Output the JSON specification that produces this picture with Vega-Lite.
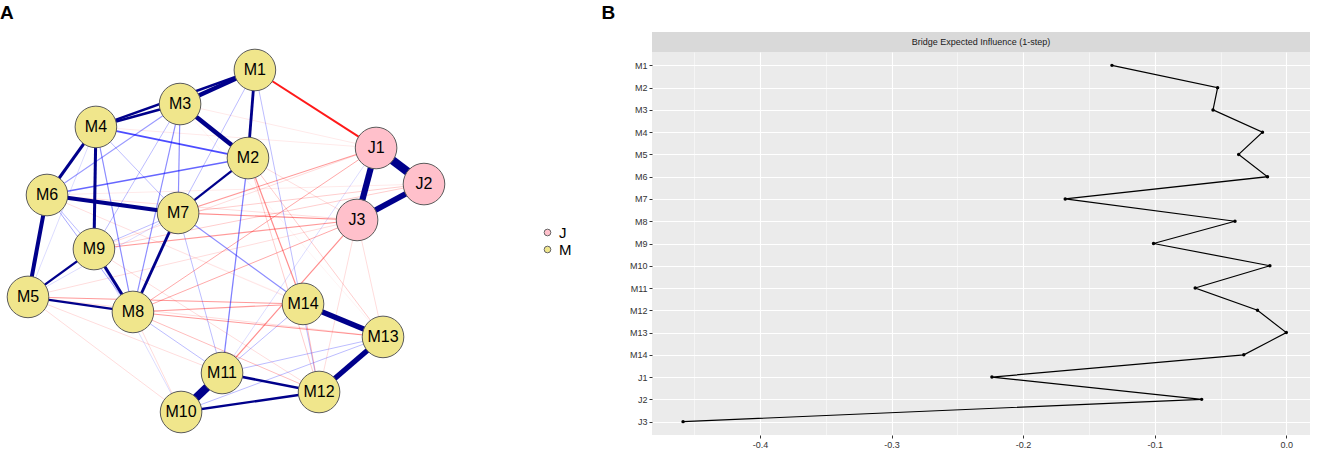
{
  "$schema": "https://vega.github.io/schema/vega-lite/v6.json",
  "padding": {"top": 4, "left": 0, "right": 0, "bottom": 0},
  "background": "white",
  "config": {"font": "Liberation Sans", "view": {"stroke": null}},
  "datasets": {
    "nodes": [
      {"id": "M1", "group": "M", "x": 0.146, "y": 1.0, "bei": -0.1325},
      {"id": "M2", "group": "M", "x": 0.111, "y": 0.485, "bei": -0.0522},
      {"id": "M3", "group": "M", "x": -0.232, "y": 0.801, "bei": -0.0557},
      {"id": "M4", "group": "M", "x": -0.657, "y": 0.667, "bei": -0.0181},
      {"id": "M5", "group": "M", "x": -1.0, "y": -0.327, "bei": -0.0362},
      {"id": "M6", "group": "M", "x": -0.904, "y": 0.269, "bei": -0.0143},
      {"id": "M7", "group": "M", "x": -0.242, "y": 0.164, "bei": -0.168},
      {"id": "M8", "group": "M", "x": -0.47, "y": -0.415, "bei": -0.039},
      {"id": "M9", "group": "M", "x": -0.667, "y": -0.047, "bei": -0.1009},
      {"id": "M10", "group": "M", "x": -0.227, "y": -1.0, "bei": -0.0125},
      {"id": "M11", "group": "M", "x": -0.02, "y": -0.772, "bei": -0.0692},
      {"id": "M12", "group": "M", "x": 0.47, "y": -0.883, "bei": -0.0219},
      {"id": "M13", "group": "M", "x": 0.793, "y": -0.561, "bei": 0.0},
      {"id": "M14", "group": "M", "x": 0.389, "y": -0.368, "bei": -0.0323},
      {"id": "J1", "group": "J", "x": 0.758, "y": 0.544, "bei": -0.2237},
      {"id": "J2", "group": "J", "x": 1.0, "y": 0.333, "bei": -0.0643},
      {"id": "J3", "group": "J", "x": 0.662, "y": 0.123, "bei": -0.4584}
    ],
    "edges": [
      {"from": "M6", "to": "M13", "w": 0.01, "sign": "neg"},
      {"from": "M3", "to": "M13", "w": 0.01, "sign": "neg"},
      {"from": "M4", "to": "J1", "w": 0.015, "sign": "neg"},
      {"from": "M3", "to": "J1", "w": 0.015, "sign": "neg"},
      {"from": "M6", "to": "J2", "w": 0.015, "sign": "neg"},
      {"from": "M6", "to": "M14", "w": 0.015, "sign": "neg"},
      {"from": "M5", "to": "M10", "w": 0.02, "sign": "neg"},
      {"from": "M5", "to": "M11", "w": 0.02, "sign": "neg"},
      {"from": "M9", "to": "M12", "w": 0.02, "sign": "neg"},
      {"from": "J3", "to": "M12", "w": 0.02, "sign": "neg"},
      {"from": "J3", "to": "M13", "w": 0.02, "sign": "neg"},
      {"from": "M9", "to": "J1", "w": 0.02, "sign": "neg"},
      {"from": "M8", "to": "M10", "w": 0.02, "sign": "neg"},
      {"from": "M5", "to": "M13", "w": 0.02, "sign": "neg"},
      {"from": "M2", "to": "J3", "w": 0.02, "sign": "neg"},
      {"from": "M6", "to": "J3", "w": 0.02, "sign": "neg"},
      {"from": "M5", "to": "J3", "w": 0.02, "sign": "neg"},
      {"from": "M5", "to": "M4", "w": 0.02, "sign": "pos"},
      {"from": "M9", "to": "M10", "w": 0.02, "sign": "pos"},
      {"from": "J1", "to": "M11", "w": 0.02, "sign": "pos"},
      {"from": "M5", "to": "M7", "w": 0.02, "sign": "pos"},
      {"from": "M2", "to": "M12", "w": 0.025, "sign": "neg"},
      {"from": "M2", "to": "M13", "w": 0.025, "sign": "neg"},
      {"from": "M9", "to": "J2", "w": 0.025, "sign": "neg"},
      {"from": "M7", "to": "J2", "w": 0.025, "sign": "neg"},
      {"from": "M1", "to": "M7", "w": 0.03, "sign": "pos"},
      {"from": "M6", "to": "M9", "w": 0.03, "sign": "pos"},
      {"from": "M4", "to": "M7", "w": 0.03, "sign": "pos"},
      {"from": "M9", "to": "M3", "w": 0.03, "sign": "pos"},
      {"from": "M8", "to": "M11", "w": 0.03, "sign": "pos"},
      {"from": "M11", "to": "M14", "w": 0.03, "sign": "pos"},
      {"from": "M11", "to": "M13", "w": 0.03, "sign": "pos"},
      {"from": "M10", "to": "M13", "w": 0.03, "sign": "pos"},
      {"from": "M7", "to": "M11", "w": 0.03, "sign": "pos"},
      {"from": "M7", "to": "M9", "w": 0.03, "sign": "pos"},
      {"from": "M1", "to": "M12", "w": 0.03, "sign": "pos"},
      {"from": "M14", "to": "M12", "w": 0.03, "sign": "neg"},
      {"from": "M8", "to": "M12", "w": 0.03, "sign": "neg"},
      {"from": "M6", "to": "M8", "w": 0.035, "sign": "pos"},
      {"from": "M3", "to": "M6", "w": 0.04, "sign": "pos"},
      {"from": "M7", "to": "J1", "w": 0.04, "sign": "neg"},
      {"from": "M9", "to": "J3", "w": 0.04, "sign": "neg"},
      {"from": "M8", "to": "J3", "w": 0.035, "sign": "neg"},
      {"from": "M8", "to": "M14", "w": 0.04, "sign": "neg"},
      {"from": "M8", "to": "M13", "w": 0.04, "sign": "neg"},
      {"from": "M5", "to": "M14", "w": 0.04, "sign": "neg"},
      {"from": "M2", "to": "M14", "w": 0.045, "sign": "neg"},
      {"from": "M8", "to": "J1", "w": 0.035, "sign": "neg"},
      {"from": "M7", "to": "J3", "w": 0.045, "sign": "neg"},
      {"from": "M11", "to": "J3", "w": 0.045, "sign": "neg"},
      {"from": "M4", "to": "M8", "w": 0.045, "sign": "pos"},
      {"from": "M3", "to": "M8", "w": 0.045, "sign": "pos"},
      {"from": "M3", "to": "M7", "w": 0.045, "sign": "pos"},
      {"from": "M2", "to": "M11", "w": 0.05, "sign": "pos"},
      {"from": "M7", "to": "M14", "w": 0.045, "sign": "pos"},
      {"from": "M6", "to": "M2", "w": 0.06, "sign": "pos"},
      {"from": "M4", "to": "M2", "w": 0.07, "sign": "pos"},
      {"from": "M1", "to": "J1", "w": 0.09, "sign": "neg"},
      {"from": "M2", "to": "M7", "w": 0.1, "sign": "pos"},
      {"from": "M9", "to": "M5", "w": 0.1, "sign": "pos"},
      {"from": "M5", "to": "M8", "w": 0.1, "sign": "pos"},
      {"from": "M1", "to": "M4", "w": 0.11, "sign": "pos"},
      {"from": "M3", "to": "M4", "w": 0.12, "sign": "pos"},
      {"from": "M10", "to": "M12", "w": 0.11, "sign": "pos"},
      {"from": "M7", "to": "M8", "w": 0.13, "sign": "pos"},
      {"from": "M11", "to": "M12", "w": 0.12, "sign": "pos"},
      {"from": "M1", "to": "M2", "w": 0.13, "sign": "pos"},
      {"from": "M4", "to": "M6", "w": 0.14, "sign": "pos"},
      {"from": "M4", "to": "M9", "w": 0.14, "sign": "pos"},
      {"from": "M9", "to": "M8", "w": 0.14, "sign": "pos"},
      {"from": "M6", "to": "M7", "w": 0.19, "sign": "pos"},
      {"from": "M6", "to": "M5", "w": 0.19, "sign": "pos"},
      {"from": "M3", "to": "M2", "w": 0.22, "sign": "pos"},
      {"from": "M1", "to": "M3", "w": 0.2, "sign": "pos"},
      {"from": "M14", "to": "M13", "w": 0.26, "sign": "pos"},
      {"from": "M13", "to": "M12", "w": 0.25, "sign": "pos"},
      {"from": "J2", "to": "J3", "w": 0.28, "sign": "pos"},
      {"from": "J1", "to": "J3", "w": 0.3, "sign": "pos"},
      {"from": "M11", "to": "M10", "w": 0.4, "sign": "pos"},
      {"from": "J1", "to": "J2", "w": 0.42, "sign": "pos"}
    ]
  },
  "hconcat": [
    {
      "title": {"text": "A", "anchor": "start", "fontSize": 19, "fontWeight": "bold", "offset": 9, "color": "black"},
      "width": 590,
      "height": 420,
      "layer": [
        {
          "data": {"name": "edges"},
          "transform": [
            {"lookup": "from", "from": {"data": {"name": "nodes"}, "key": "id", "fields": ["x", "y"]}, "as": ["x1", "y1"]},
            {"lookup": "to", "from": {"data": {"name": "nodes"}, "key": "id", "fields": ["x", "y"]}, "as": ["x2", "y2"]}
          ],
          "mark": {"type": "rule", "strokeCap": "butt"},
          "encoding": {
            "x": {"field": "x1", "type": "quantitative", "scale": {"domain": [-1.1414, 1.8384], "nice": false, "zero": false}, "axis": null},
            "y": {"field": "y1", "type": "quantitative", "scale": {"domain": [-1.2339, 1.2222], "nice": false, "zero": false}, "axis": null},
            "x2": {"field": "x2"},
            "y2": {"field": "y2"},
            "stroke": {
              "condition": {"test": "datum.sign == 'pos' && datum.w >= 0.1", "value": "#00008B"},
              "field": "sign", "type": "nominal",
              "scale": {"domain": ["pos", "neg"], "range": ["#0000FF", "#FF0000"]},
              "legend": null
            },
            "opacity": {"field": "w", "type": "quantitative", "scale": {"domain": [0, 0.1], "range": [0, 1], "clamp": true}, "legend": null},
            "strokeWidth": {"field": "w", "type": "quantitative", "scale": {"domain": [0, 0.42], "range": [0.3, 8.5]}, "legend": null}
          }
        },
        {
          "data": {"name": "nodes"},
          "mark": {"type": "circle", "size": 1730, "stroke": "#5a5a5a", "strokeWidth": 1, "opacity": 1},
          "encoding": {
            "x": {"field": "x", "type": "quantitative"},
            "y": {"field": "y", "type": "quantitative"},
            "fill": {
              "field": "group", "type": "nominal",
              "scale": {"domain": ["J", "M"], "range": ["#FFC0CB", "#F0E68C"]},
              "legend": {"title": null, "orient": "none", "legendX": 540, "legendY": 193, "labelFontSize": 15, "labelColor": "black", "symbolType": "circle", "symbolSize": 45, "symbolStrokeColor": "#666666", "symbolStrokeWidth": 1, "rowPadding": 1}
            }
          }
        },
        {
          "data": {"name": "nodes"},
          "mark": {"type": "text", "fontSize": 16, "color": "black"},
          "encoding": {
            "x": {"field": "x", "type": "quantitative"},
            "y": {"field": "y", "type": "quantitative"},
            "text": {"field": "id"}
          }
        }
      ]
    },
    {
      "title": {"text": "B", "anchor": "start", "fontSize": 19, "fontWeight": "bold", "offset": 9, "color": "black", "dx": -28},
      "bounds": "flush",
      "spacing": 0,
      "vconcat": [
        {
          "width": 658,
          "height": 20,
          "view": {"fill": "#D9D9D9", "stroke": null},
          "data": {"values": [{"label": "Bridge Expected Influence (1-step)"}]},
          "mark": {"type": "text", "fontSize": 9, "color": "#1a1a1a", "align": "center", "baseline": "middle"},
          "encoding": {"text": {"field": "label"}}
        },
        {
          "width": 658,
          "height": 383,
          "view": {"fill": "#EBEBEB", "stroke": null},
          "data": {"name": "nodes"},
          "resolve": {"axis": {"x": "independent"}},
          "layer": [
            {
              "mark": {"type": "line", "color": "black", "strokeWidth": 1.2},
              "encoding": {
                "x": {"field": "bei", "type": "quantitative", "scale": {"domain": [-0.482, 0.018], "nice": false, "zero": false},
                  "axis": {"values": [-0.4, -0.3, -0.2, -0.1, 0], "labelExpr": "replace(format(datum.value, '.1f'), '\u2212', '-')", "title": null, "labelFontSize": 9, "labelColor": "#333333", "tickColor": "#333333", "tickSize": 3, "domain": false, "grid": true, "gridColor": "white", "gridWidth": 1.1, "labelPadding": 2}},
                "y": {"field": "id", "type": "nominal", "sort": null, "scale": {"type": "point", "padding": 0.6},
                  "axis": {"title": null, "labelFontSize": 9, "labelColor": "#333333", "tickColor": "#333333", "tickSize": 3, "domain": false, "grid": true, "gridColor": "white", "gridWidth": 1.1, "labelPadding": 2}},
                "order": {"value": null}
              }
            },
            {
              "mark": {"type": "point", "filled": true, "color": "black", "size": 12, "opacity": 1},
              "encoding": {
                "x": {"field": "bei", "type": "quantitative",
                  "axis": {"values": [-0.45, -0.35, -0.25, -0.15, -0.05], "labels": false, "ticks": false, "domain": false, "title": null, "grid": true, "gridColor": "white", "gridWidth": 0.5}},
                "y": {"field": "id", "type": "nominal", "sort": null}
              }
            }
          ]
        }
      ]
    }
  ],
  "spacing": 11
}
